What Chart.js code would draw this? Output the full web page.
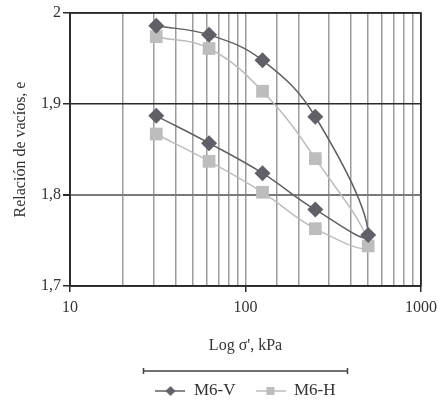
<!DOCTYPE html>
<html lang="es">
<head>
<meta charset="UTF-8" />
<title>Relación de vacíos - Log σ'</title>
<script src="https://cdn.jsdelivr.net/npm/chart.js"></script>
<style>
  html, body { margin: 0; padding: 0; background: #fff; }
  #wrap { width: 438px; height: 406px; }
</style>
</head>
<body>
<div id="wrap"><canvas id="chart"></canvas></div>
<script>
  // loading branch then unloading branch, kPa
  const pressures = [31, 62, 125, 250, 500, 250, 125, 62, 31];
  const voidsV = [1.986, 1.976, 1.948, 1.886, 1.756, 1.784, 1.824, 1.857, 1.887];
  const voidsH = [1.974, 1.961, 1.914, 1.840, 1.744, 1.763, 1.803, 1.837, 1.867];
  const seriesNames = ['M6-V', 'M6-H'];
  const yTicks = [1.7, 1.8, 1.9, 2];
  const xLabels = [10, 100, 1000];

  const DARK = '#606066';
  const LIGHT = '#bdbdbd';
  const FONT = "'Liberation Serif', 'DejaVu Serif', serif";

  function toPoints(ys) {
    return pressures.map((p, i) => ({ x: p, y: ys[i] }));
  }

  function legendIcon(color, shape) {
    const c = document.createElement('canvas');
    c.width = 30; c.height = 12;
    const g = c.getContext('2d');
    g.strokeStyle = color;
    g.lineWidth = 1.5;
    g.beginPath(); g.moveTo(0, 6); g.lineTo(30, 6); g.stroke();
    g.fillStyle = color;
    g.beginPath();
    if (shape === 'diamond') {
      g.moveTo(15, 1); g.lineTo(20, 6); g.lineTo(15, 11); g.lineTo(10, 6); g.closePath();
    } else {
      g.rect(11, 2, 8, 8);
    }
    g.fill();
    return c;
  }
  const icons = [legendIcon(DARK, 'diamond'), legendIcon(LIGHT, 'square')];

  const isMajor = v => xLabels.includes(Math.round(v));

  // centre the legend under the plot, frame the plot, bar above legend
  const framePlugin = {
    id: 'frame',
    afterLayout(chart) {
      const { legend, chartArea: a } = chart;
      const dx = (a.left + a.right) / 2 - (legend.left + legend.right) / 2;
      const dy = 391 - (legend.top + 20 + 8.5);
      legend.left += dx; legend.right += dx;
      legend.top += dy; legend.bottom += dy;
    },
    afterDraw(chart) {
      const { ctx, chartArea: a } = chart;
      ctx.save();
      ctx.strokeStyle = '#2a2a2a';
      ctx.lineWidth = 1.5;
      ctx.strokeRect(a.left, a.top, a.right - a.left, a.bottom - a.top);
      const cx = (a.left + a.right) / 2;
      const y = a.bottom + 85;
      ctx.strokeStyle = '#444';
      ctx.beginPath();
      ctx.moveTo(cx - 102, y); ctx.lineTo(cx + 102, y);
      ctx.moveTo(cx - 102, y - 3); ctx.lineTo(cx - 102, y + 3);
      ctx.moveTo(cx + 102, y - 3); ctx.lineTo(cx + 102, y + 3);
      ctx.stroke();
      ctx.restore();
    }
  };

  new Chart(document.getElementById('chart'), {
    type: 'line',
    data: {
      datasets: [
        {
          label: seriesNames[0],
          data: toPoints(voidsV),
          borderColor: DARK,
          backgroundColor: DARK,
          borderWidth: 1.5,
          pointStyle: 'rectRot',
          pointRadius: 8,
          pointBorderWidth: 0,
          tension: 0.4
        },
        {
          label: seriesNames[1],
          data: toPoints(voidsH),
          borderColor: LIGHT,
          backgroundColor: LIGHT,
          borderWidth: 1.5,
          pointStyle: 'rect',
          pointRadius: 9,
          pointBorderWidth: 0,
          tension: 0.4
        }
      ]
    },
    options: {
      responsive: true,
      maintainAspectRatio: false,
      animation: false,
      layout: { padding: { top: 13, right: 17, left: 0, bottom: 0 } },
      plugins: {
        tooltip: { enabled: false },
        legend: {
          position: 'bottom',
          labels: {
            usePointStyle: true,
            pointStyleWidth: 30,
            padding: 20,
            color: '#333',
            font: { family: FONT, size: 17 },
            generateLabels: chart => chart.data.datasets.map((ds, i) => ({
              text: ds.label,
              pointStyle: icons[i],
              fillStyle: 'transparent',
              strokeStyle: 'transparent',
              lineWidth: 0,
              hidden: false,
              datasetIndex: i,
              fontColor: '#333'
            }))
          }
        }
      },
      scales: {
        x: {
          type: 'logarithmic',
          min: 10,
          max: 1000,
          afterFit: s => { s.height = 73; s.paddingLeft = 0; s.paddingRight = 0; },
          border: { color: '#2a2a2a', width: 1.5 },
          grid: {
            color: c => (c.tick && (c.tick.value === 10 || c.tick.value === 1000)) ? '#2a2a2a' : '#9c9c9c',
            lineWidth: 1.5,
            tickLength: 6,
            tickColor: c => (c.tick && isMajor(c.tick.value)) ? '#2a2a2a' : 'transparent'
          },
          ticks: {
            autoSkip: false,
            maxRotation: 0,
            color: '#333',
            padding: 6,
            font: { family: FONT, size: 16 },
            callback: v => isMajor(v) ? String(Math.round(v)) : ''
          },
          title: {
            display: true,
            text: "Log σ', kPa",
            color: '#333',
            font: { family: FONT, size: 16 },
            padding: { top: 0, bottom: 4 }
          }
        },
        y: {
          min: yTicks[0],
          max: yTicks[yTicks.length - 1],
          afterFit: s => { s.width = 70; },
          afterBuildTicks: s => { s.ticks = yTicks.map(v => ({ value: v })); },
          border: { color: '#2a2a2a', width: 1.5 },
          grid: {
            color: c => {
              const v = Math.round(c.tick.value * 10) / 10;
              return v === 1.8 ? '#7a7a7a' : '#2a2a2a';
            },
            lineWidth: c => (Math.round(c.tick.value * 10) / 10 === 1.8 ? 2 : 1.5),
            tickLength: 7,
            tickColor: '#2a2a2a'
          },
          ticks: {
            color: '#333',
            padding: 2,
            font: { family: FONT, size: 16 },
            callback: v => String(Math.round(v * 10) / 10).replace('.', ',')
          },
          title: {
            display: true,
            text: 'Relación de vacíos, e',
            color: '#333',
            font: { family: FONT, size: 16 },
            padding: { top: 11, bottom: 0 }
          }
        }
      }
    },
    plugins: [framePlugin]
  });
</script>
</body>
</html>
